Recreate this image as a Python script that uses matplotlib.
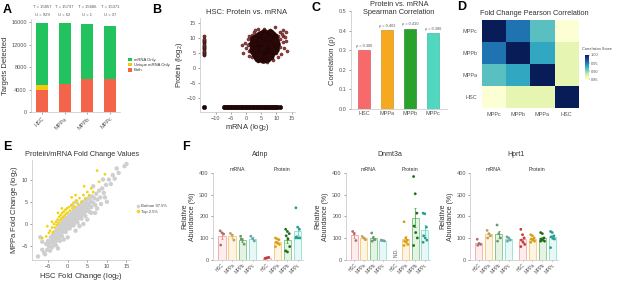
import matplotlib
matplotlib.use('Agg')
import matplotlib.pyplot as plt
import numpy as np
from matplotlib.patches import Patch
from matplotlib.lines import Line2D

plt.rcParams['font.family'] = ['Liberation Sans', 'DejaVu Sans']
plt.rcParams['mathtext.default'] = 'regular'

# ---------------- data ----------------
cells = ['HSC', 'MPPa', 'MPPb', 'MPPc']

# A
a_total = [15857, 15737, 15686, 15371]
a_unique = [929, 62, 1, 37]
a_both = [3870, 5000, 5800, 5900]

# B
b_core_x = [4.2,5.1,6.0,6.8,4.6,5.5,7.3,3.8,4.9,5.8,6.5,7.6,3.4,4.3,5.2,6.1,6.9,7.9,3.1,4.0,4.8,5.6,6.4,7.2,8.2,
            2.9,3.7,4.5,5.3,6.1,6.9,7.7,8.6,3.2,4.0,4.9,5.7,6.5,7.3,8.2,3.6,4.5,5.3,6.1,7.0,7.9,4.2,5.0,5.9,6.7,
            7.5,5.4,6.3,7.1,4.6,8.0,3.9,5.0,6.0,7.0,5.9,4.4,6.6,5.5,6.8,7.6,8.9,2.6,8.4,3.3,6.3,4.0,7.8,9.2,9.0,2.7,3.0,
            3.5,5.5,7.0,8.0,8.8,9.5,9.8,9.3,8.5,7.8,6.0,4.5,3.5,2.5,2.2,2.3,2.8,4.8,6.5,7.5,3.7,4.7,6.3,8.7,5.2,
            6.2,7.4,8.1,4.1,9.6]
b_core_y = [3.6,3.4,3.8,4.1,4.3,4.2,4.6,4.8,5.0,4.9,5.2,5.4,5.6,5.7,5.8,5.9,6.1,6.0,6.4,6.5,6.6,6.7,6.8,6.9,6.8,
            7.2,7.3,7.4,7.5,7.6,7.7,7.8,7.6,8.1,8.2,8.3,8.4,8.5,8.6,8.5,9.0,9.1,9.2,9.3,9.4,9.3,9.9,10.1,10.2,10.3,
            10.0,10.8,11.0,10.9,10.6,10.5,7.8,7.0,6.3,5.6,5.4,6.1,7.2,9.7,9.9,7.2,8.3,6.8,9.1,4.5,4.5,3.2,5.0,7.0,9.5,8.8,9.6,
            3.8,3.0,3.3,4.2,5.5,6.2,8.0,10.2,11.0,11.5,11.6,11.0,10.3,9.5,7.8,6.0,5.0,4.5,3.6,3.9,6.0,8.8,10.7,6.8,6.2,
            8.0,9.7,8.0,4.1,9.0]
b_sparse_x = [-0.5,0.5,1.0,1.5,2.0,0.0,1.0,2.5,3.0,4.0,6.0,8.0,9.5,10.0,11.0,12.0,13.0,13.5,12.5,11.5,10.5,9.0,7.0,
              5.0,3.5,2.5,1.5,2.0,0.5,-1.0,11.0,12.0,8.5,6.5,4.0,3.0,2.5,1.5,10.0,11.0,9.0,7.5,5.0,3.5,12.0,13.0,
              10.5,2.0,1.0,4.5,-1.3,0.8,9.8,12.8,11.8]
b_sparse_y = [8.3,9.5,8.0,10.0,11.0,6.5,5.5,12.0,12.5,12.8,13.0,12.5,13.5,11.0,9.5,8.5,9.0,5.5,6.5,4.5,3.5,2.5,2.0,
              2.5,3.0,4.0,7.0,6.0,7.5,5.0,12.0,12.5,3.2,2.8,2.2,9.5,9.0,8.7,7.5,7.0,11.5,12.0,12.0,11.0,10.5,12.0,
              10.5,3.5,4.0,11.5,7.6,10.4,4.8,10.2,11.2]
b_mrna_only_x = [-7.3,-6.8,-6.3,-5.9,-5.4,-5.0,-4.5,-4.1,-3.6,-3.2,-2.7,-2.3,-1.8,-1.4,-0.9,-0.5,0.0,0.4,0.9,1.3,
                 1.8,2.2,2.7,3.1,3.6,4.0,4.5,4.9,5.4,5.8,6.3,6.7,7.2,7.6,8.1,8.5,9.0,9.4,9.9,10.3,11.2,-13.8]
b_protein_only_y = [4.1,4.5,4.9,5.3,5.7,6.1,6.5,6.9,7.3,7.7,8.1,8.5,8.9,9.3,9.7,10.4]
b_only_level = -13.2
b_protein_only_x = -13.8

# C
c_rho = [0.300, 0.402, 0.410, 0.386]

# D
d_labels = ['MPPc', 'MPPb', 'MPPa', 'HSC']
d_corr = [[1.000, 0.953, 0.915, 0.848],
          [0.953, 1.000, 0.930, 0.868],
          [0.915, 0.930, 1.000, 0.868],
          [0.848, 0.868, 0.868, 1.000]]

# E
e_gray_x = [-7.6,-6.5,-6.0,-5.5,-5.2,-5.0,-4.8,-4.5,-4.3,-4.0,-4.0,-3.8,-3.6,-3.5,-3.3,-3.1,-3.0,-2.8,-2.7,-2.5,
            -2.4,-2.2,-2.0,-2.0,-1.8,-1.6,-1.5,-1.4,-1.2,-1.0,-1.0,-0.8,-0.6,-0.5,-0.4,-0.2,0.0,0.0,0.1,0.3,
            0.4,0.5,0.6,0.8,0.9,1.0,1.1,1.3,1.4,1.5,1.6,1.8,1.9,2.0,2.1,2.3,2.4,2.5,2.6,2.8,
            2.9,3.0,3.1,3.3,3.4,3.5,3.6,3.8,3.9,4.0,4.2,4.3,4.5,4.6,4.8,5.0,5.2,5.3,5.5,5.8,
            6.0,6.2,6.5,6.8,7.0,7.3,7.6,8.0,8.3,8.8,9.2,9.8,10.5,11.0,11.5,12.0,12.5,13.0,14.5,15.0,
            -1.5,-0.5,0.5,1.5,2.5,3.5,4.5,5.5,-3.0,-2.0,-5.8,-4.5,6.0,7.5,8.5,9.5,3.0,2.0,-6.5,-7.0,
            1.2,2.2,6.5,9.0,-2.5,0.0,5.0,10.0,-1.0,4.0,7.0,-3.4,-0.9,0.7,2.7,4.4,-2.1,1.7]
e_gray_y = [-7.3,-5.8,-6.5,-4.5,-5.8,-3.8,-5.0,-4.2,-3.0,-5.2,-3.8,-2.5,-4.5,-3.2,-1.8,-3.9,-2.6,-1.5,-3.4,-2.2,
            -0.8,-3.0,-1.6,-0.3,-2.5,-1.0,0.2,-1.9,-0.4,0.8,-1.4,0.0,-0.9,1.2,-0.2,0.6,-1.0,0.3,1.5,-0.2,
            0.9,2.0,0.1,1.3,-0.4,2.3,0.7,1.8,0.2,2.8,1.2,2.2,0.6,3.2,1.6,2.6,1.0,3.6,2.0,3.0,
            1.4,4.0,2.5,3.4,1.9,4.5,2.9,3.8,2.3,5.0,3.3,4.3,2.8,5.3,3.8,4.6,3.2,5.8,4.3,5.2,
            3.8,6.2,4.8,5.8,4.3,6.8,5.5,7.5,6.0,8.0,7.0,8.8,10.0,9.0,11.0,10.2,12.5,11.5,13.0,13.5,
            -2.8,-1.8,-1.0,-0.3,0.3,1.2,1.8,2.8,-4.8,-3.8,-6.8,-6.0,2.5,3.5,4.5,6.0,-0.5,-1.5,-4.0,-3.0,
            4.2,5.0,8.5,10.0,-5.5,-3.0,1.0,5.0,-3.5,0.0,2.5,-2.0,-0.1,0.8,1.5,3.7,-1.0,1.6]
e_top_x = [-4.8,-4.5,-4.0,-3.8,-3.5,-3.3,-3.0,-2.8,-2.6,-2.4,-2.2,-2.0,-1.8,-1.6,-1.4,-1.2,-1.0,-0.8,-0.6,-0.4,
           -0.2,0.0,0.3,0.6,0.9,1.2,1.5,1.8,2.2,2.6,3.0,3.5,4.0,4.5,5.0,5.5,6.0,6.5,7.5,8.0,
           -6.5,-5.5,-2.5,-1.5,-4.0,2.0,4.2,9.5,-5.2,1.0]
e_top_y = [-2.0,-1.5,-0.8,-1.9,0.0,-0.8,0.5,-0.2,1.0,0.3,1.6,0.8,2.0,1.2,2.5,1.6,2.8,1.9,3.2,2.3,
           3.5,2.6,3.8,3.0,4.2,3.5,4.8,3.9,5.3,4.4,5.8,5.0,6.5,5.8,7.2,6.5,8.0,7.2,12.0,9.5,
           -3.2,-2.8,2.5,3.5,0.5,6.5,8.5,11.2,-0.5,6.0]

# F
f_genes = ['Adnp', 'Dnmt3a', 'Hprt1']
f_mrna = {
    'Adnp':   [[133, 124, 118, 67], [121, 113, 90], [108, 90, 71, 95], [108, 97, 86]],
    'Dnmt3a': [[130, 120, 88], [107, 100, 92], [123, 100, 92, 85], [90, 88, 86]],
    'Hprt1':  [[94, 74, 70, 66], [135, 120, 110, 100], [160, 120, 100, 85], [105, 100, 90, 85]],
}
f_protein = {
    'Adnp':   [[5, 8, 10, 6], [100, 95, 92, 80, 75, 70, 60], [140, 130, 120, 110, 95, 60, 40, 35],
               [240, 150, 140, 105, 100, 100, 100]],
    'Dnmt3a': [None, [175, 100, 90, 85, 80, 70, 65], [385, 305, 215, 155, 125, 100, 65],
               [215, 212, 150, 110, 100, 90, 80]],
    'Hprt1':  [[140, 115, 100, 90, 80, 70, 60], [115, 110, 100, 95, 90, 85, 80],
               [125, 120, 100, 95, 90, 85, 85], [130, 125, 110, 105, 100, 95, 55]],
}

# ---------------- figure ----------------
W, H = 617, 282
fig = plt.figure(figsize=(6.17, 2.82), dpi=100)

def ax_px(l, t, r, b):
    return fig.add_axes([l / W, 1 - b / H, (r - l) / W, (b - t) / H])

SP = '#c4c4c4'
TXT = '#555555'

def style(ax, fs=4):
    for s in ['top', 'right']:
        ax.spines[s].set_visible(False)
    for s in ['left', 'bottom']:
        ax.spines[s].set_color(SP)
        ax.spines[s].set_linewidth(0.5)
    ax.tick_params(labelsize=fs, colors=TXT, length=1.5, width=0.4, pad=1.5)

def letter(x, y, s):
    fig.text(x / W, 1 - y / H, s, fontsize=9, fontweight='bold', va='center', ha='left')

# ---- A ----
axA = ax_px(31, 19.2, 120, 112)
style(axA)
xa = np.arange(4)
green, yellow, red = '#22c25e', '#f2c80f', '#f4644a'
mrna_only = [t - b - u for t, b, u in zip(a_total, a_both, a_unique)]
bottom2 = [b + u for b, u in zip(a_both, a_unique)]
axA.bar(xa, a_both, 0.53, color=red)
axA.bar(xa, a_unique, 0.53, bottom=a_both, color=yellow)
axA.bar(xa, mrna_only, 0.53, bottom=bottom2, color=green)
axA.set_xlim(-0.48, 3.44)
axA.set_ylim(0, 16500)
axA.set_yticks([0, 4000, 8000, 12000, 16000])
axA.set_xticks(xa)
axA.set_xticklabels(cells, rotation=45, ha='right', rotation_mode='anchor')
axA.set_ylabel('Targets Detected', fontsize=5.5, color='#333', labelpad=2)
for i in range(4):
    axA.text(i, 18667, f'T = {a_total[i]}', fontsize=3, color=TXT, ha='center', va='center', clip_on=False)
    axA.text(i, 17244, f'U = {a_unique[i]}', fontsize=3, color=TXT, ha='center', va='center', clip_on=False)
handles = [Patch(facecolor=green, label='mRNA Only'), Patch(facecolor=yellow, label='Unique mRNA Only'),
           Patch(facecolor=red, label='Both')]
fig.legend(handles=handles, loc='center left', bbox_to_anchor=(126 / W, 1 - 65 / H), frameon=False,
           fontsize=3, handlelength=0.9, handleheight=0.9, labelspacing=0.25, handletextpad=0.4,
           borderpad=0, labelcolor='#333')
letter(3, 10, 'A')

# ---- B ----
axB = ax_px(200, 18.2, 294.7, 111.8)
style(axB)
dot = '#8a3434'
edge = '#2a0a0a'
axB.scatter(b_sparse_x, b_sparse_y, s=5, c='#9a4040', edgecolors='#3a0e0e', linewidths=0.3)
axB.scatter(b_core_x, b_core_y, s=34, c='#2a0808', edgecolors='#1a0404', linewidths=0.3)
axB.scatter(b_mrna_only_x, [b_only_level] * len(b_mrna_only_x), s=10, c='#1a0505', edgecolors=edge,
            linewidths=0.4)
axB.scatter([b_protein_only_x] * len(b_protein_only_y), b_protein_only_y, s=5, c=dot, edgecolors=edge,
            linewidths=0.4)
axB.set_xlim(-15.2, 16)
axB.set_ylim(-14.7, 16.5)
axB.set_xticks([-10, -5, 0, 5, 10, 15])
axB.set_yticks([-10, -5, 0, 5, 10, 15])
axB.set_xlabel('mRNA (log$_2$)', fontsize=5.5, color='#333', labelpad=1)
axB.set_ylabel('Protein (log$_2$)', fontsize=5.5, color='#333', labelpad=1)
fig.text(247 / W, 1 - 13 / H, 'HSC: Protein vs. mRNA', fontsize=5.5, color='#333', ha='center', va='center')
letter(152, 10, 'B')

# ---- C ----
axC = ax_px(351, 11, 447, 109)
style(axC)
ccol = ['#f8696b', '#f6a91f', '#2aa12a', '#4fd8bf']
cedge = ['#c84a4c', '#c98512', '#1d7a1d', '#33a892']
axC.bar(xa, c_rho, 0.5, color=ccol, edgecolor=cedge, linewidth=0.4)
for i, v in enumerate(c_rho):
    axC.text(i, v + 0.012, f'\u03c1 = {v:.3f}', fontsize=2.8, color=TXT, ha='center', va='bottom')
axC.set_xlim(-0.565, 3.6)
axC.set_ylim(0, 0.5)
axC.set_yticks([0, 0.1, 0.2, 0.3, 0.4, 0.5])
axC.set_yticklabels(['0.0', '0.1', '0.2', '0.3', '0.4', '0.5'])
axC.set_xticks(xa)
axC.set_xticklabels(cells)
axC.tick_params(axis='x', length=0)
axC.set_ylabel('Correlation (\u03c1)', fontsize=5.5, color='#333', labelpad=2)
fig.text(399 / W, 1 - 8.5 / H, 'Protein vs. mRNA\nSpearman Correlation', fontsize=5.3, color='#333',
         ha='center', va='center', linespacing=1.0)
letter(311, 8, 'C')

# ---- D ----
axD = ax_px(481.7, 20, 578.3, 107.7)
im = axD.imshow(np.array(d_corr), cmap='YlGnBu', vmin=0.845, vmax=1.0, aspect='auto')
for s in axD.spines.values():
    s.set_visible(False)
axD.set_xticks(range(4))
axD.set_yticks(range(4))
axD.set_xticklabels(d_labels)
axD.set_yticklabels(d_labels)
axD.tick_params(labelsize=4, colors=TXT, length=0, pad=3)
fig.text(534 / W, 1 - 13.5 / H, 'Fold Change Pearson Correlation', fontsize=5.3, color='#333',
         ha='center', va='center')
cax = ax_px(585, 55, 588.5, 80)
cb = fig.colorbar(im, cax=cax)
cb.outline.set_visible(False)
cb.set_ticks([0.85, 0.90, 0.95, 1.00])
cb.set_ticklabels(['0.85', '0.90', '0.95', '1.00'])
cax.tick_params(labelsize=2.8, colors=TXT, length=0.8, width=0.3, pad=1)
fig.text(582 / W, 1 - 49 / H, 'Correlation Score', fontsize=2.8, color='#444', ha='left', va='center')
letter(457, 7, 'D')

# ---- E ----
axE = ax_px(31.7, 160, 130, 260)
style(axE)
axE.scatter(e_gray_x, e_gray_y, s=10, c='#cfcfcf', edgecolors='none')
axE.scatter(e_top_x, e_top_y, s=4, c='#f3d21c', edgecolors='none')
axE.set_xlim(-9.2, 15.9)
axE.set_ylim(-8.1, 14.4)
axE.set_xticks([-5, 0, 5, 10, 15])
axE.set_yticks([-5, 0, 5, 10])
axE.set_xlabel('HSC Fold Change (log$_2$)', fontsize=5.5, color='#333', labelpad=1)
axE.set_ylabel('MPPa Fold Change (log$_2$)', fontsize=5.5, color='#333', labelpad=1)
fig.text(82 / W, 1 - 155 / H, 'Protein/mRNA Fold Change Values', fontsize=5.3, color='#333',
         ha='center', va='center')
eh = [Line2D([], [], marker='o', ls='', color='#cfcfcf', markersize=1.5, label='Bottom 97.5%'),
      Line2D([], [], marker='o', ls='', color='#f3d21c', markersize=1.5, label='Top 2.5%')]
fig.legend(handles=eh, loc='center left', bbox_to_anchor=(134 / W, 1 - 209 / H), frameon=False,
           fontsize=3, handlelength=0.8, labelspacing=0.3, handletextpad=0.3, borderpad=0, labelcolor='#444')
letter(3, 147, 'E')

# ---- F ----
fcol = ['#f07070', '#f2a623', '#2e9e2e', '#45cdb5']
fpt_m = ['#b07070', '#c0a060', '#6a9a6a', '#6aa6a0']
fpt_p = ['#c83838', '#d9a016', '#1d6e1d', '#2a9d8f']
pos_m = [0, 1, 2, 3]
pos_p = [4.4, 5.4, 6.4, 7.4]
boxes = {'Adnp': (212.7, 303.3), 'Dnmt3a': (345.7, 430.0), 'Hprt1': (470.0, 557.7)}

def draw_group(ax, pos, groups, ptcol):
    for j, vals in enumerate(groups):
        x = pos[j]
        if vals is None:
            ax.text(x, 35, 'N.D.', rotation=90, fontsize=3.5, color=TXT, ha='center', va='center')
            continue
        v = np.array(vals, float)
        m = v.mean()
        sem = v.std(ddof=1) / np.sqrt(len(v))
        ax.bar(x, m, 0.72, color=fcol[j], alpha=0.12, edgecolor='none')
        ax.bar(x, m, 0.72, facecolor='none', edgecolor=fcol[j], linewidth=0.6, alpha=0.6)
        ax.errorbar(x, m, yerr=sem, color=fcol[j], lw=0.5, capsize=1, capthick=0.5)
        offs = [((k % 3) - 1) * 0.17 + (0.05 if (k // 3) % 2 else 0) for k in range(len(v))]
        ax.scatter(x + np.array(offs), v, s=4, c=ptcol[j], edgecolors='none', zorder=3)

for g in f_genes:
    l, r = boxes[g]
    ax = ax_px(l, 173.3, r, 259.5)
    style(ax)
    draw_group(ax, pos_m, f_mrna[g], fpt_m)
    draw_group(ax, pos_p, f_protein[g], fpt_p)
    ax.set_xlim(-0.9, 7.95)
    ax.set_ylim(0, 400)
    ax.set_yticks([0, 100, 200, 300, 400])
    ax.set_xticks(pos_m + pos_p)
    ax.set_xticklabels(cells + cells, rotation=45, ha='right', rotation_mode='anchor', fontsize=3.3)
    ax.tick_params(axis='x', length=1, pad=1)
    ax.set_ylabel('Relative\nAbundance (%)', fontsize=5, color='#333', labelpad=2, linespacing=1.1)
    ax.text(1.5, 418, 'mRNA', fontsize=3.8, color='#333', ha='center', va='center', clip_on=False)
    ax.text(5.9, 418, 'Protein', fontsize=3.8, color='#333', ha='center', va='center', clip_on=False)
    ax.text(3.7, 488, g, fontsize=5, color='#333', ha='center', va='center', clip_on=False)
letter(182, 147, 'F')

fig.savefig('out.png', dpi=100)
